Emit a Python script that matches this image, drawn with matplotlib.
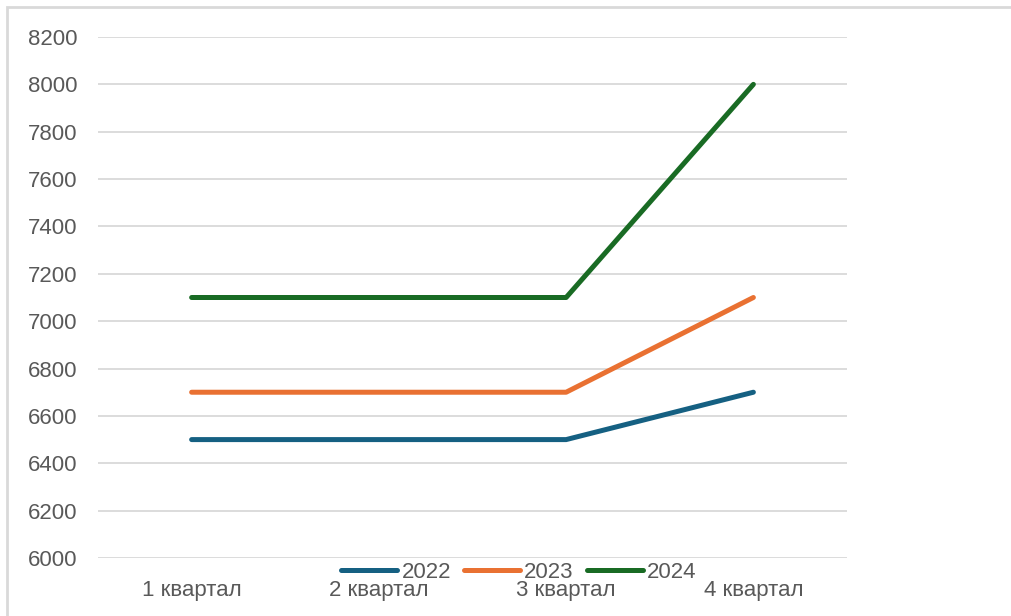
import matplotlib
matplotlib.use("Agg")
import matplotlib.pyplot as plt
from matplotlib.patches import Rectangle

categories = ["1 квартал", "2 квартал", "3 квартал", "4 квартал"]
series_names = ["2022", "2023", "2024"]
values_2022 = [6500, 6500, 6500, 6700]
values_2023 = [6700, 6700, 6700, 7100]
values_2024 = [7100, 7100, 7100, 8000]
yticks = list(range(6000, 8201, 200))
colors = ["#156082", "#E97132", "#196B24"]

plt.rcParams['font.family'] = ['Liberation Sans', 'DejaVu Sans']
W, H = 1011, 616
fig = plt.figure(figsize=(W/100, H/100), dpi=100)
ax = fig.add_axes([98/W, 1-558/H, (847-98)/W, (558-37)/H])

x = list(range(len(categories)))
for vals, name, c in zip([values_2022, values_2023, values_2024], series_names, colors):
    ax.plot(x, vals, color=c, lw=3.6, solid_capstyle='round', solid_joinstyle='round', label=name, zorder=3)

ax.set_xlim(-0.5, 3.5)
ax.set_ylim(6000, 8200)
ax.set_yticks(yticks)
ax.set_yticklabels([str(v) for v in yticks])
ax.set_xticks(x)
ax.set_xticklabels(categories)
ax.grid(axis='y', color='#d9d9d9', lw=1.3, zorder=0)
ax.grid(axis='x', visible=False)
for s in ax.spines.values():
    s.set_visible(False)
ax.tick_params(axis='both', length=0, labelsize=16, colors='#595959')
ax.tick_params(axis='y', pad=15)
ax.tick_params(axis='x', pad=16)

leg = fig.legend(loc='center', bbox_to_anchor=(519/W, 1-572/H), ncol=3, frameon=False,
                 fontsize=16, handlelength=2.5, handletextpad=0.2, columnspacing=0.6,
                 borderpad=0, labelcolor='#595959')

fig.patches.append(Rectangle((7/W, -0.1), 1.2, 1-7/H+0.1, transform=fig.transFigure,
                             fill=False, edgecolor='#d9d9d9', lw=2))

fig.savefig("out.png", dpi=100)
